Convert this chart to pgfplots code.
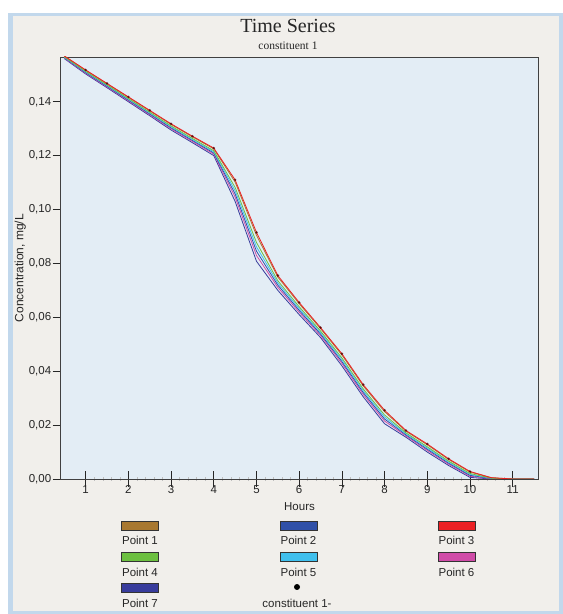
\documentclass[border=0pt]{standalone}
\usepackage{pgfplots}
\pgfplotsset{compat=1.18}
\usepackage{fontspec}
\setmainfont{Liberation Sans}
\newfontfamily\seriffont{Liberation Serif}

\definecolor{framebl}{HTML}{C2D8EC}
\definecolor{panel}{HTML}{F1EFEB}
\definecolor{plotbg}{HTML}{E3EDF5}
\definecolor{cBrown}{HTML}{A87830}
\definecolor{cBlue}{HTML}{3050A8}
\definecolor{cRed}{HTML}{EC2024}
\definecolor{cGreen}{HTML}{6CC040}
\definecolor{cCyan}{HTML}{40C0EE}
\definecolor{cPink}{HTML}{D04CA8}
\definecolor{cNavy}{HTML}{383C9C}

\begin{document}
\begin{tikzpicture}[x=1pt,y=1pt]
\useasboundingbox (0,0) rectangle (563,614);
\fill[white] (0,0) rectangle (563,614);
\fill[framebl] (8,0) rectangle (563,601);
\fill[panel] (13,3) rectangle (559,598);

\node[font=\seriffont\fontsize{20}{22}\selectfont, text=black!85, anchor=base] at (288,581) {Time Series};
\node[font=\seriffont\fontsize{11.5}{13}\selectfont, text=black!85, anchor=base] at (288,564) {constituent 1};

\begin{axis}[
    at={(60.7pt,135pt)}, anchor=south west,
    scale only axis,
    width=477.6pt, height=422pt,
    xmin=0.415, xmax=11.6,
    ymin=0, ymax=0.1566,
    axis background/.style={fill=plotbg},
    axis line style={draw=black!75, line width=0.7pt},
    xtick={1,2,...,11},
    minor x tick num=4,
    ytick={0,0.02,...,0.14},
    major tick length=8pt,
    minor tick length=4pt,
    x tick style={draw=black!85, line width=0.7pt, /pgfplots/major tick length=16pt},
    y tick style={draw=black!85, line width=0.7pt},
    minor x tick style={draw=black!25, line width=0.5pt, /pgfplots/minor tick length=4pt},
    xtick pos=bottom, ytick pos=left,
    xtick align=center, ytick align=outside,
    yticklabel style={/pgf/number format/fixed, /pgf/number format/fixed zerofill, /pgf/number format/precision=2, /pgf/number format/use comma, xshift=2pt},
    /pgf/number format/assume math mode=true,
    tick label style={font=\fontsize{11.5}{13}\selectfont, text=black!85},
    xticklabel style={yshift=1pt},
    xlabel={Hours}, xlabel style={font=\fontsize{11.5}{13}\selectfont, text=black!85, yshift=-2pt},
    ylabel={Concentration, mg/L}, ylabel style={font=\fontsize{12}{14}\selectfont, text=black!85, yshift=-4pt},
    clip=true,
    every axis plot/.append style={line width=0.8pt, no marks},
]
% Point 7 (lowest)
\addplot[cNavy] coordinates {(0.5,.1560)(1,.1503)(1.5,.1452)(2,.1400)(2.5,.1348)(3,.1295)(3.5,.1248)(4,.1200)(4.5,.1030)(5,.0808)(5.5,.0700)(6,.0610)(6.5,.0525)(7,.0420)(7.5,.0305)(8,.0205)(8.5,.0155)(9,.0100)(9.5,.0050)(10,.0006)(10.5,.0000)(11,.0000)(11.5,.0000)};
% Point 6
\addplot[cPink] coordinates {(0.5,.1562)(1,.1506)(1.5,.14552)(2,.14036)(2.5,.1352)(3,.12996)(3.5,.12528)(4,.12056)(4.5,.1046)(5,.08294)(5.5,.0711)(6,.0619)(6.5,.05324)(7,.0429)(7.5,.0314)(8,.0215)(8.5,.0160)(9,.0106)(9.5,.0055)(10,.00104)(10.5,.0001)(11,0)(11.5,0)};
% Point 2
\addplot[cBlue] coordinates {(0.5,.15635)(1,.15083)(1.5,.14576)(2,.14063)(2.5,.1355)(3,.13031)(3.5,.12564)(4,.12098)(4.5,.1058)(5,.08455)(5.5,.07193)(6,.06258)(6.5,.05380)(7,.04358)(7.5,.03208)(8,.02225)(8.5,.01638)(9,.01105)(9.5,.00588)(10,.00137)(10.5,.00018)(11,0)(11.5,0)};
% Point 5
\addplot[cCyan] coordinates {(0.5,.1565)(1,.15105)(1.5,.1460)(2,.1409)(2.5,.1358)(3,.13065)(3.5,.1260)(4,.1214)(4.5,.1070)(5,.08615)(5.5,.07275)(6,.06325)(6.5,.05435)(7,.04425)(7.5,.03275)(8,.0230)(8.5,.01675)(9,.0115)(9.5,.00625)(10,.00170)(10.5,.00025)(11,0)(11.5,0)};
% Point 4
\addplot[cGreen] coordinates {(0.5,.15665)(1,.15128)(1.5,.14624)(2,.14117)(2.5,.1361)(3,.13100)(3.5,.12636)(4,.12182)(4.5,.1082)(5,.08776)(5.5,.07358)(6,.06393)(6.5,.05491)(7,.04493)(7.5,.03343)(8,.02375)(8.5,.01713)(9,.01195)(9.5,.00663)(10,.00203)(10.5,.00033)(11,0)(11.5,0)};
% Point 1
\addplot[cBrown] coordinates {(0.5,.1569)(1,.15165)(1.5,.14664)(2,.14162)(2.5,.1366)(3,.13157)(3.5,.12696)(4,.12252)(4.5,.1102)(5,.09043)(5.5,.07495)(6,.06505)(6.5,.05583)(7,.04605)(7.5,.03455)(8,.0250)(8.5,.01775)(9,.0127)(9.5,.00725)(10,.00258)(10.5,.00045)(11,0)(11.5,0)};
% Point 3 (highest)
\addplot[cRed] coordinates {(0.5,.1570)(1,.1518)(1.5,.1468)(2,.1418)(2.5,.1368)(3,.1318)(3.5,.1272)(4,.1228)(4.5,.1110)(5,.0915)(5.5,.0755)(6,.0655)(6.5,.0562)(7,.0465)(7.5,.0350)(8,.0255)(8.5,.0180)(9,.0130)(9.5,.0075)(10,.0028)(10.5,.0005)(11,0)(11.5,0)};
% constituent 1- markers
\addplot[only marks, mark=*, mark size=0.9pt, draw=black!70!red, fill=black!70!red, opacity=0.6] coordinates {(0.5,.1570)(1,.1518)(1.5,.1468)(2,.1418)(2.5,.1368)(3,.1318)(3.5,.1272)(4,.1228)(4.5,.1110)(5,.0915)(5.5,.0755)(6,.0655)(6.5,.0562)(7,.0465)(7.5,.0350)(8,.0255)(8.5,.0180)(9,.0130)(9.5,.0075)(10,.0028)};
\end{axis}

% legend
\tikzset{sw/.style={draw=black!80, line width=0.6pt}, lg/.style={font=\fontsize{11.5}{13}\selectfont, text=black!85}}
\fill[cBrown,sw] (121.5,84) rectangle (158.5,93);
\node[lg] at (140,74) {Point 1};
\fill[cBlue,sw] (280,84) rectangle (317,93);
\node[lg] at (298.5,74) {Point 2};
\fill[cRed,sw] (438,84) rectangle (475,93);
\node[lg] at (456.5,74) {Point 3};
\fill[cGreen,sw] (121.5,53) rectangle (158.5,62);
\node[lg] at (140,42) {Point 4};
\fill[cCyan,sw] (280,53) rectangle (317,62);
\node[lg] at (298.5,42) {Point 5};
\fill[cPink,sw] (438,53) rectangle (475,62);
\node[lg] at (456.5,42) {Point 6};
\fill[cNavy,sw] (121.5,22) rectangle (158.5,31);
\node[lg] at (140,11) {Point 7};
\fill[black] (297,27) circle (3pt);
\node[lg] at (297,11) {constituent 1-};
\end{tikzpicture}
\end{document}
